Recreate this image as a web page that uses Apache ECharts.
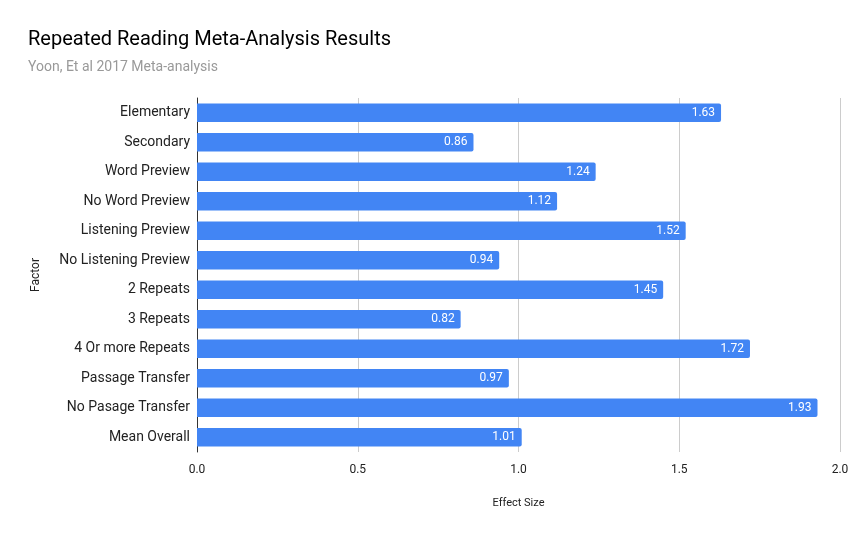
<!DOCTYPE html>
<html><head><meta charset="utf-8">
<script src="https://cdn.jsdelivr.net/npm/echarts@6/dist/echarts.min.js"></script>
<style>html,body{margin:0;padding:0;background:#fff}#c{width:867px;height:536px}</style>
</head><body><div id="c"></div>
<script>
const categories = ["Elementary","Secondary","Word Preview","No Word Preview","Listening Preview","No Listening Preview","2 Repeats","3 Repeats","4 Or more Repeats","Passage Transfer","No Pasage Transfer","Mean Overall"];
const effectSizes = [1.63,0.86,1.24,1.12,1.52,0.94,1.45,0.82,1.72,0.97,1.93,1.01];
const xTicks = [0,0.5,1.0,1.5,2.0];

const F = 'Roboto, Arial, sans-serif';
const chart = echarts.init(document.getElementById('c'), null, {renderer:'canvas'});
chart.setOption({
  animation:false,
  textStyle:{fontFamily:F},
  title:{
    text:'Repeated Reading Meta-Analysis Results',
    subtext:'Yoon, Et al 2017 Meta-analysis',
    left:23, top:25,
    itemGap:10,
    textStyle:{fontFamily:F,fontSize:20,fontWeight:'normal',color:'#000'},
    subtextStyle:{fontFamily:F,fontSize:14,color:'#999'}
  },
  grid:{left:197,right:27,top:98,bottom:84,containLabel:false},
  xAxis:{
    type:'value', min:0, max:2, interval:0.5,
    name:'Effect Size', nameLocation:'middle', nameGap:46,
    nameTextStyle:{fontFamily:F,fontSize:11,color:'#222'},
    axisLine:{show:false}, axisTick:{show:false},
    axisLabel:{color:'#222',fontSize:12,margin:12,fontFamily:F,formatter:v=>v.toFixed(1)},
    splitLine:{show:true,lineStyle:{color:'#ccc',width:1}}
  },
  yAxis:{
    type:'category', data:categories, inverse:true,
    name:'Factor', nameLocation:'middle', nameGap:155, nameRotate:90,
    nameTextStyle:{fontFamily:F,fontSize:12,color:'#222'},
    axisLine:{show:true,lineStyle:{color:'#333',width:1}},
    axisTick:{show:false},
    axisLabel:{color:'#222',fontSize:14,margin:7,fontFamily:F},
    splitLine:{show:false}
  },
  series:[{
    type:'bar', data:effectSizes, barCategoryGap:'37%',
    itemStyle:{color:'#4285f4',borderRadius:[0,2,2,0]},
    label:{show:true,position:'insideRight',color:'#fff',fontSize:12,fontFamily:F,distance:6,formatter:p=>p.value.toFixed(2)}
  }]
});
</script></body></html>
